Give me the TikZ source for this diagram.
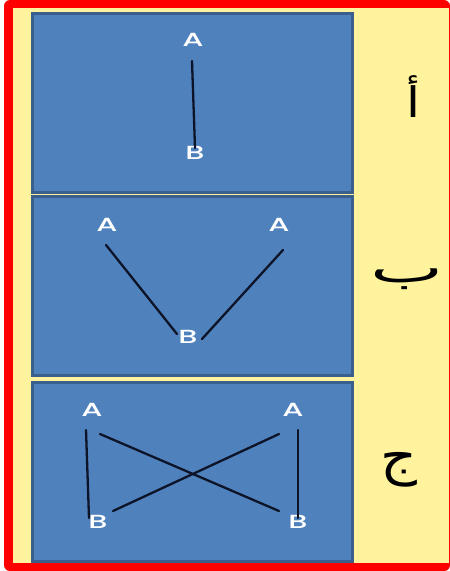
\documentclass[tikz,border=0pt]{standalone}
\usepackage{fontspec}
\newfontfamily\labelfont{Poppins Medium}
\newfontfamily\arabicfont[Script=Arabic]{DejaVu Sans}
\TeXXeTstate=1
\definecolor{framered}{HTML}{FF0000}
\definecolor{bgyellow}{HTML}{FFF39E}
\definecolor{panelblue}{HTML}{4F81BD}
\definecolor{paneledge}{HTML}{3A5F8C}
\definecolor{linkdark}{HTML}{0E1428}
\newcommand{\stretchx}[2][1.6]{\scalebox{#1}[1]{#2}}

\begin{document}
\begin{tikzpicture}[x=1pt, y=-1pt,
    panel/.style={rectangle, draw=paneledge, fill=panelblue, line width=3pt, minimum width=320pt, minimum height=179pt, inner sep=0pt},
    pt/.style={text=white, font=\labelfont\fontsize{19}{19}\selectfont, inner sep=0pt, text height=13.3pt, text depth=0pt},
    tag/.style={font=\arabicfont\fontsize{42}{42}\selectfont, inner sep=0pt},
    link/.style={line width=2.3pt, draw=linkdark, line cap=round}]
    \useasboundingbox (0,0) rectangle (450,571);
    % frame
    \fill[framered, rounded corners=6pt] (4,0) rectangle (450,571);
    \fill[bgyellow] (13,8) rectangle (449,563);

    \node [panel] (p1) at (192.5,102.5) {};
    \node [panel] (p2) at (192.5,286) {};
    \node [panel] (p3) at (192.5,471.5) {};

    % case a
    \node [pt] (a1) at (193,40) {\stretchx{A}};
    \node [pt] (b1) at (195,153) {\stretchx{B}};
    \coordinate (a1-end) at (192,61);
    \coordinate (b1-end) at (195,148);
    \draw [link] (a1-end) -- (b1-end);

    % case b
    \node [pt] (a2l) at (107,225) {\stretchx{A}};
    \node [pt] (a2r) at (279,225) {\stretchx{A}};
    \node [pt] (b2) at (188,337) {\stretchx{B}};
    \coordinate (a2l-end) at (106,245);
    \coordinate (a2r-end) at (283,250);
    \coordinate (b2l-end) at (177,334);
    \coordinate (b2r-end) at (202,339);
    \draw [link] (a2l-end) -- (b2l-end);
    \draw [link] (a2r-end) -- (b2r-end);

    % case c
    \node [pt] (a3l) at (92,410) {\stretchx{A}};
    \node [pt] (a3r) at (293,410) {\stretchx{A}};
    \node [pt] (b3l) at (98,522) {\stretchx{B}};
    \node [pt] (b3r) at (298,522) {\stretchx{B}};
    \coordinate (a3l-end) at (86,430);
    \coordinate (b3l-end) at (89,518);
    \coordinate (a3r-end) at (298,430);
    \coordinate (b3r-end) at (298,518);
    \coordinate (a3l-x) at (100,434);
    \coordinate (b3r-x) at (279,511);
    \coordinate (a3r-x) at (279,434);
    \coordinate (b3l-x) at (113,511);
    \draw [link] (a3l-end) -- (b3l-end);
    \draw [link] (a3r-end) -- (b3r-end);
    \draw [link] (a3l-x) -- (b3r-x);
    \draw [link] (a3r-x) -- (b3l-x);

    \node [tag] (t1) at (413,97) {\stretchx[1.2]{\beginR أ\endR}};
    \node [tag] (t2) at (407,279) {\stretchx[1.85]{\beginR ب\endR}};
    \node [tag, font=\arabicfont\fontsize{52}{52}\selectfont] (t3) at (399,470) {\stretchx[1.1]{\beginR ج\endR}};
\end{tikzpicture}
\end{document}
